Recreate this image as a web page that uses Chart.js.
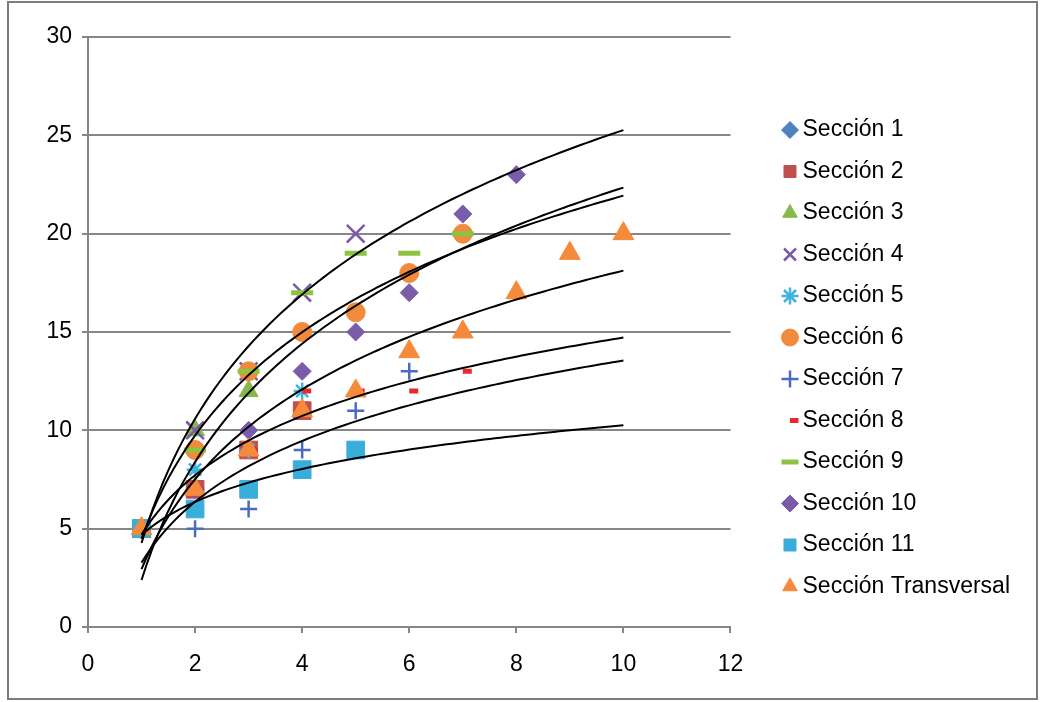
<!DOCTYPE html>
<html>
<head>
<meta charset="utf-8">
<script src="https://cdn.jsdelivr.net/npm/chart.js@4.4.1/dist/chart.umd.min.js"></script>
<style>
  html, body { margin: 0; padding: 0; background: #fff; }
  #wrap { position: relative; width: 1042px; height: 702px; }
  #frame { position: absolute; left: 7px; top: 1px; width: 1027px; height: 695px; border: 2px solid #7c7c7c; pointer-events: none; }
</style>
</head>
<body>
<div id="wrap">
  <canvas id="chart" width="1042" height="702"></canvas>
  <div id="frame"></div>
</div>
<script>
// x positions, every series starts at x = 1 except Sección 9
const xValues = [1, 2, 3, 4, 5, 6, 7, 8, 9, 10];
const seccion9X = [2, 3, 4, 5, 6, 7];

// y values
const seccion1 = [5, 7, 9, 11];
const seccion2 = [5, 7, 9, 11];
const seccion3 = [5, 10, 12];
const seccion4 = [5, 10, 13, 17, 20];
const seccion5 = [5, 8, 9, 12];
const seccion6 = [5, 9, 13, 15, 16, 18, 20];
const seccion7 = [5, 5, 6, 9, 11, 13];
const seccion8 = [5, 7, 9, 12, 12, 12, 13];
const seccion9 = [9, 13, 17, 19, 19, 20];
const seccion10 = [5, 7, 10, 13, 15, 17, 21, 23];
const seccion11 = [5, 6, 7, 8, 9];
const transversal = [5, 7, 9, 11, 12, 14, 15, 17, 19, 20];

const seriesNames = ['Sección 1', 'Sección 2', 'Sección 3', 'Sección 4', 'Sección 5', 'Sección 6',
  'Sección 7', 'Sección 8', 'Sección 9', 'Sección 10', 'Sección 11', 'Sección Transversal'];
const seriesY = [seccion1, seccion2, seccion3, seccion4, seccion5, seccion6,
  seccion7, seccion8, seccion9, seccion10, seccion11, transversal];
// series that carry a logarithmic trendline
const withTrend = ['Sección 4', 'Sección 6', 'Sección 7', 'Sección 8', 'Sección 10', 'Sección 11', 'Sección Transversal'];

const xTicks = [0, 2, 4, 6, 8, 10, 12];
const yTicks = [0, 5, 10, 15, 20, 25, 30];

// marker look per series
const markers = [
  { color: '#4F81BD', style: 'rectRot', r: 8.5, bw: 1 },
  { color: '#C0504D', style: 'rect', r: 12.5, bw: 1 },
  { color: '#86B84A', style: 'triangle', r: 11, bw: 1 },
  { color: '#7B5BA9', style: 'crossRot', r: 12.5, bw: 2.5 },
  { color: '#3FB3E0', style: 'star', r: 8.5, bw: 2.5 },
  { color: '#F08A3C', style: 'circle', r: 9.5, bw: 1 },
  { color: '#4A6CC0', style: 'cross', r: 8.5, bw: 2.5 },
  { color: '#E8282D', style: 'dash', r: 9, bw: 5 },
  { color: '#8CC43F', style: 'line', r: 11, bw: 5 },
  { color: '#7A5CAA', style: 'rectRot', r: 9, bw: 1 },
  { color: '#3AAEDB', style: 'rect', r: 12.5, bw: 1 },
  { color: '#F58B3A', style: 'triangle', r: 12, bw: 1 }
];

function xsFor(i) {
  return seriesNames[i] === 'Sección 9' ? seccion9X : xValues;
}

// least squares fit of y = a ln(x) + b, like the spreadsheet trendline
function logFit(xs, ys) {
  const n = ys.length;
  const lx = xs.slice(0, n).map(Math.log);
  const mx = lx.reduce((s, v) => s + v, 0) / n;
  const my = ys.reduce((s, v) => s + v, 0) / n;
  let sxy = 0, sxx = 0;
  lx.forEach((l, i) => {
    sxy += (l - mx) * (ys[i] - my);
    sxx += (l - mx) * (l - mx);
  });
  const a = sxy / sxx;
  return { a: a, b: my - a * mx };
}

const datasets = [];
seriesNames.forEach((name, i) => {
  const xs = xsFor(i);
  const m = markers[i];
  datasets.push({
    label: name,
    data: seriesY[i].map((y, k) => ({ x: xs[k], y: y })),
    pointStyle: m.style,
    pointRadius: m.r,
    pointHoverRadius: m.r,
    pointBackgroundColor: m.color,
    pointBorderColor: m.color,
    pointBorderWidth: m.bw,
    backgroundColor: m.color,
    borderColor: m.color,
    borderWidth: m.bw,
    showLine: false,
    order: 20 - i
  });
});

seriesNames.forEach((name, i) => {
  if (!withTrend.includes(name)) return;
  const fit = logFit(xsFor(i), seriesY[i]);
  const pts = [];
  for (let k = 0; k <= 90; k++) {
    const x = 1 + k * 0.1;
    pts.push({ x: x, y: fit.a * Math.log(x) + fit.b });
  }
  datasets.push({
    label: name + ' trend',
    trend: true,
    data: pts,
    showLine: true,
    pointRadius: 0,
    borderColor: '#000',
    borderWidth: 2,
    fill: false,
    order: -1
  });
});

// the layout caps a side legend at a fraction of the width, let it use what it needs
const wideLegend = {
  id: 'wideLegend',
  afterInit(chart) {
    const lg = chart.legend;
    if (!lg) return;
    const fit = lg.fit.bind(lg);
    lg.fit = function () {
      this.maxWidth = Math.max(this.maxWidth, 320);
      fit();
    };
  }
};

Chart.defaults.font.family = "'Liberation Sans', Arial, sans-serif";
Chart.defaults.color = '#000';

const gridGrey = '#868686';

new Chart(document.getElementById('chart'), {
  type: 'scatter',
  data: { datasets: datasets },
  plugins: [wideLegend],
  options: {
    responsive: false,
    animation: false,
    layout: { padding: { left: 10, top: 37, right: 22, bottom: 22.5 } },
    plugins: {
      tooltip: { enabled: false },
      legend: {
        position: 'right',
        labels: {
          usePointStyle: true,
          boxWidth: 2,
          boxHeight: 12,
          padding: 18.5,
          color: '#000',
          font: { size: 23 },
          filter: (item, data) => !data.datasets[item.datasetIndex].trend,
          sort: (a, b) => a.datasetIndex - b.datasetIndex
        }
      }
    },
    scales: {
      x: {
        type: 'linear',
        min: 0,
        max: 12,
        afterBuildTicks: s => { s.ticks = xTicks.map(v => ({ value: v })); },
        afterFit: s => { s.height = 52.5; },
        grid: { drawOnChartArea: false, drawTicks: true, tickLength: 6, color: gridGrey, lineWidth: 2 },
        border: { display: true, color: gridGrey, width: 2 },
        ticks: { font: { size: 23 }, padding: 18, color: '#000' }
      },
      y: {
        type: 'linear',
        min: 0,
        max: 30,
        afterBuildTicks: s => { s.ticks = yTicks.map(v => ({ value: v })); },
        afterFit: s => { s.width = 78; },
        grid: { drawOnChartArea: true, drawTicks: true, tickLength: 6, color: gridGrey, lineWidth: 2 },
        border: { display: true, color: gridGrey, width: 2 },
        ticks: { font: { size: 23 }, padding: 10, color: '#000' }
      },
      gap: {
        type: 'linear',
        position: 'right',
        display: true,
        afterFit: s => { s.width = 40; },
        grid: { display: false },
        border: { display: false },
        ticks: { display: false }
      }
    }
  }
});
</script>
</body>
</html>
